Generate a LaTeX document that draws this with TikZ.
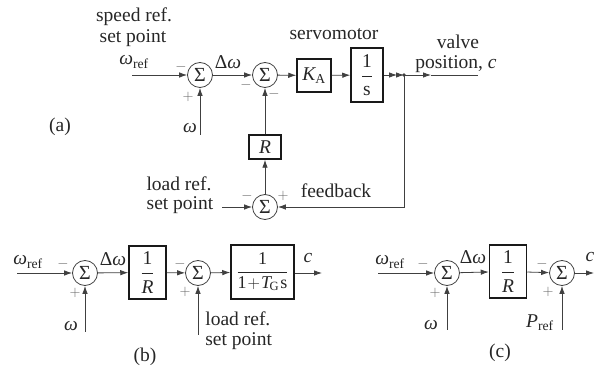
\documentclass[tikz,border=0pt]{standalone}
\usepackage{amsmath}
\usepackage{fontspec}
\setmainfont{Liberation Serif}
\usetikzlibrary{arrows.meta}
\newcommand\tx[1]{\text{#1}}
\newcommand\ti[1]{\text{\itshape #1}}
\newcommand\omg{\ti{ω}}
\begin{document}
\begin{tikzpicture}[x=1pt,y=-1pt,
  line width=0.8pt,
  color=black!75,
  >={Latex[length=8pt,width=5.5pt]},
  sumnode/.style={circle,draw,minimum size=25pt,inner sep=0pt,text=black!85,font=\fontsize{20}{20}\selectfont},
  blk/.style={draw=black!90,line width=1.5pt,inner sep=0pt,text=black!85,font=\fontsize{19.5}{21}\selectfont},
  lbl/.style={font=\fontsize{19.5}{21}\selectfont,inner sep=0pt,text=black!85},
  sgn/.style={font=\fontsize{14}{14}\selectfont,inner sep=0pt,text=black!60},
]
\useasboundingbox (0,0) rectangle (595,366);

% ---------- (a) ----------
\node[sumnode] (s1) at (200,75) {Σ};
\node[sumnode] (s2) at (265,75) {Σ};
\node[blk,minimum width=34pt,minimum height=33pt] (ka) at (314,75.5) {$\ti{K}_{\tx{A}}$};
\node[blk,minimum width=32pt,minimum height=54pt] (int) at (367,75) {$\dfrac{\tx{1}}{\tx{s}}$};
\node[blk,minimum width=32pt,minimum height=24pt] (R) at (265,147) {\itshape R};
\node[sumnode] (s3) at (265,207) {Σ};
\coordinate (win) at (132,75);
\coordinate (wa) at (200,135);
\coordinate (lin) at (222,207);
\coordinate (dbl) at (397,75);
\coordinate (br) at (404,75);
\coordinate (va) at (431,75);
\coordinate (out) at (478,75);

\draw[->] (win) -- (s1);
\draw[->] (wa) -- (s1);
\draw[->] (s1) -- (s2);
\draw[->] (s2) -- (ka);
\draw[->] (ka) -- (int);
\draw[->] (int) -- (dbl);
\draw[->] (dbl) -- (br);
\fill (br) circle (1.8pt);
\draw[->] (br) -- (va);
\draw (va) -- (out);
\draw[->] (br) |- (s3);
\draw[->] (s3) -- (R);
\draw[->] (R) -- (s2);
\draw[->] (lin) -- (s3);

\node[lbl] (t1) at (134,17) {speed ref.};
\node[lbl] (t2) at (133,38) {set point};
\node[lbl] (t3) at (134,62) {$\omg_{\tx{ref}}$};
\node[lbl] (t4) at (190,128) {\itshape ω};
\node[lbl] (t5) at (228,62) {Δ\itshape ω};
\node[lbl] (t6) at (334,34) {servomotor};
\node[lbl] (t7) at (458,42) {valve};
\node[lbl] (t8) at (456,64) {position, \itshape c};
\node[lbl] (t9) at (179,183.5) {load ref.};
\node[lbl] (t10) at (180,205) {set point};
\node[lbl] (t11) at (336,191) {feedback};
\node[lbl] (t12) at (60,127) {(a)};
\node[sgn] (g1) at (181,67) {$-$};
\node[sgn] (g2) at (188,97) {$+$};
\node[sgn] (g3) at (246,85) {$-$};
\node[sgn] (g4) at (274,94) {$-$};
\node[sgn] (g5) at (247,196) {$-$};
\node[sgn] (g6) at (283,196) {$+$};

% ---------- (b) ----------
\node[sumnode] (b1) at (85,273) {Σ};
\node[blk,minimum width=37pt,minimum height=53pt] (bR) at (147.5,272.5) {$\dfrac{\tx{1}}{\ti{R}}$};
\node[sumnode] (b2) at (198,273) {Σ};
\node[blk,minimum width=63pt,minimum height=54pt,font=\fontsize{18}{20}\selectfont] (bG) at (262.5,272) {$\dfrac{\tx{1}}{\tx{1}\mkern1mu{+}\mkern1mu\ti{T}_{\mkern-2mu\tx{G}}\mkern1mu\tx{s}}$};
\coordinate (bin) at (17,273);
\coordinate (bw) at (85,332);
\coordinate (bl) at (198,335);
\coordinate (bout) at (322,273);
\draw[->] (bin) -- (b1);
\draw[->] (bw) -- (b1);
\draw[->] (b1) -- (bR);
\draw[->] (bR) -- (b2);
\draw[->] (bl) -- (b2);
\draw[->] (b2) -- (bG);
\draw[->] (bG.east |- bout) -- (bout);

\node[lbl] (u1) at (28,262) {$\omg_{\tx{ref}}$};
\node[lbl] (u2) at (71,326) {\itshape ω};
\node[lbl] (u3) at (113,259) {Δ\itshape ω};
\node[lbl] (u4) at (308,258) {\itshape c};
\node[lbl,anchor=west] (u5) at (205,319) {load ref.};
\node[lbl,anchor=west] (u6) at (205,341) {set point};
\node[lbl] (u7) at (145,357) {(b)};
\node[sgn] (h1) at (63,264) {$-$};
\node[sgn] (h2) at (75,293) {$+$};
\node[sgn] (h3) at (180,264) {$-$};
\node[sgn] (h4) at (185,292) {$+$};

% ---------- (c) ----------
\node[sumnode] (c1) at (447,273) {Σ};
\node[blk,minimum width=37pt,minimum height=53pt] (cR) at (508,271.5) {$\dfrac{\tx{1}}{\ti{R}}$};
\node[sumnode] (c2) at (562,273) {Σ};
\coordinate (cin) at (378,273);
\coordinate (cw) at (447,330);
\coordinate (cp) at (562,330);
\coordinate (cout) at (594,273);
\draw[->] (cin) -- (c1);
\draw[->] (cw) -- (c1);
\draw[->] (c1) -- (cR);
\draw[->] (cR) -- (c2);
\draw[->] (cp) -- (c2);
\draw[->] (c2) -- (cout);

\node[lbl] (v1) at (390,262) {$\omg_{\tx{ref}}$};
\node[lbl] (v2) at (431,325) {\itshape ω};
\node[lbl] (v3) at (473,257) {Δ\itshape ω};
\node[lbl] (v4) at (540,323) {$\ti{P}_{\tx{ref}}$};
\node[lbl] (v5) at (590,257) {\itshape c};
\node[lbl] (v6) at (500,353) {(c)};
\node[sgn] (k1) at (423,264) {$-$};
\node[sgn] (k2) at (435,293) {$+$};
\node[sgn] (k3) at (542,264) {$-$};
\node[sgn] (k4) at (548,292) {$+$};
\end{tikzpicture}
\end{document}
